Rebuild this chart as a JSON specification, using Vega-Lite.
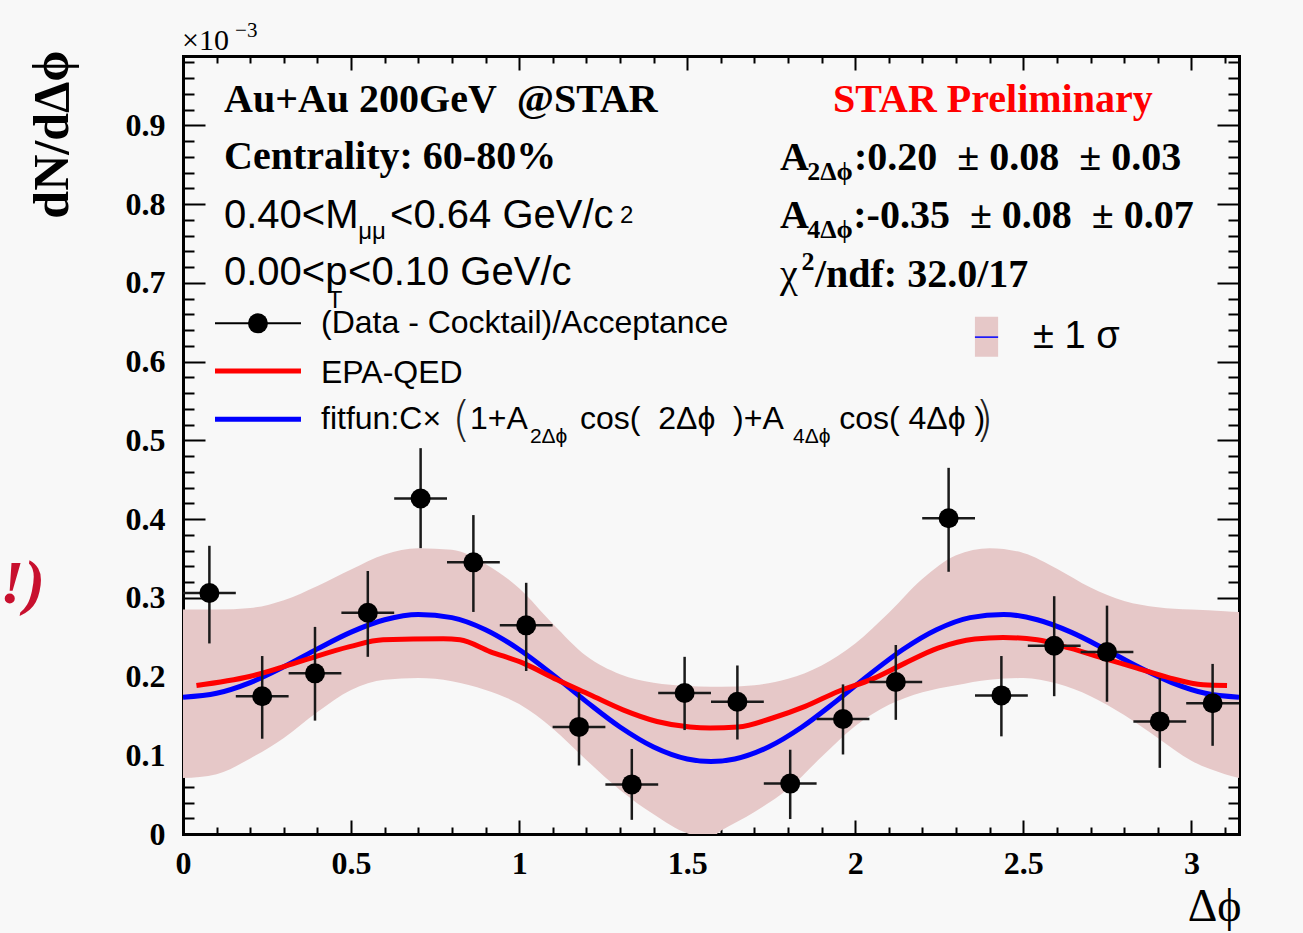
{
  "$schema": "https://vega.github.io/schema/vega-lite/v6.json",
  "width": 1056,
  "height": 778,
  "autosize": {"type": "none"},
  "padding": {"left": 183, "top": 56, "right": 64, "bottom": 99},
  "background": "#f8f8f8",
  "config": {
    "view": {"stroke": null},
    "axis": {"grid": false, "zindex": 1, "domain": true, "domainColor": "black", "domainWidth": 3, "domainCap": "square", "tickColor": "black", "tickWidth": 2}
  },
  "resolve": {"axis": {"x": "independent", "y": "independent"}},
  "datasets": {
    "band": [
      {"x": 0, "lo": 0.071, "hi": 0.285},
      {"x": 0.1, "lo": 0.076, "hi": 0.285},
      {"x": 0.2, "lo": 0.096, "hi": 0.287},
      {"x": 0.3, "lo": 0.122, "hi": 0.297},
      {"x": 0.4, "lo": 0.155, "hi": 0.315},
      {"x": 0.5, "lo": 0.183, "hi": 0.336},
      {"x": 0.6, "lo": 0.196, "hi": 0.355},
      {"x": 0.7, "lo": 0.198, "hi": 0.363},
      {"x": 0.8, "lo": 0.194, "hi": 0.361},
      {"x": 0.9, "lo": 0.183, "hi": 0.343},
      {"x": 1.0, "lo": 0.165, "hi": 0.312},
      {"x": 1.1, "lo": 0.134, "hi": 0.267},
      {"x": 1.2, "lo": 0.094, "hi": 0.226},
      {"x": 1.3, "lo": 0.056, "hi": 0.203},
      {"x": 1.4, "lo": 0.025, "hi": 0.192},
      {"x": 1.5, "lo": 0.001, "hi": 0.188},
      {"x": 1.57, "lo": -0.004, "hi": 0.187},
      {"x": 1.6, "lo": 0.004, "hi": 0.187},
      {"x": 1.7, "lo": 0.028, "hi": 0.189},
      {"x": 1.8, "lo": 0.057, "hi": 0.197},
      {"x": 1.9, "lo": 0.098, "hi": 0.214},
      {"x": 2.0, "lo": 0.137, "hi": 0.242},
      {"x": 2.1, "lo": 0.164, "hi": 0.281},
      {"x": 2.2, "lo": 0.180, "hi": 0.324},
      {"x": 2.3, "lo": 0.189, "hi": 0.354},
      {"x": 2.4, "lo": 0.196, "hi": 0.363},
      {"x": 2.5, "lo": 0.198, "hi": 0.357},
      {"x": 2.6, "lo": 0.191, "hi": 0.337},
      {"x": 2.7, "lo": 0.175, "hi": 0.313},
      {"x": 2.8, "lo": 0.151, "hi": 0.296},
      {"x": 2.9, "lo": 0.122, "hi": 0.288},
      {"x": 3.0, "lo": 0.093, "hi": 0.285},
      {"x": 3.1, "lo": 0.076, "hi": 0.283},
      {"x": 3.1416, "lo": 0.071, "hi": 0.282}
    ],
    "fit": [
      {"x": 0, "y": 0.1738}, {"x": 0.1, "y": 0.1787}, {"x": 0.2, "y": 0.1923}, {"x": 0.3, "y": 0.2123},
      {"x": 0.4, "y": 0.2351}, {"x": 0.5, "y": 0.2564}, {"x": 0.6, "y": 0.2721}, {"x": 0.7, "y": 0.2789},
      {"x": 0.8, "y": 0.2748}, {"x": 0.9, "y": 0.2594}, {"x": 1.0, "y": 0.2343}, {"x": 1.1, "y": 0.2024},
      {"x": 1.2, "y": 0.1681}, {"x": 1.3, "y": 0.1359}, {"x": 1.4, "y": 0.1105}, {"x": 1.5, "y": 0.0953},
      {"x": 1.5708, "y": 0.092}, {"x": 1.6416, "y": 0.0953}, {"x": 1.7416, "y": 0.1105}, {"x": 1.8416, "y": 0.1359},
      {"x": 1.9416, "y": 0.1681}, {"x": 2.0416, "y": 0.2024}, {"x": 2.1416, "y": 0.2343}, {"x": 2.2416, "y": 0.2594},
      {"x": 2.3416, "y": 0.2748}, {"x": 2.4416, "y": 0.2789}, {"x": 2.5416, "y": 0.2721}, {"x": 2.6416, "y": 0.2564},
      {"x": 2.7416, "y": 0.2351}, {"x": 2.8416, "y": 0.2123}, {"x": 2.9416, "y": 0.1923}, {"x": 3.0416, "y": 0.1787},
      {"x": 3.1416, "y": 0.1738}
    ],
    "epa": [
      {"x": 0.040, "y": 0.1886}, {"x": 0.198, "y": 0.200}, {"x": 0.347, "y": 0.219}, {"x": 0.496, "y": 0.238},
      {"x": 0.595, "y": 0.2466}, {"x": 0.774, "y": 0.2478}, {"x": 0.824, "y": 0.2466}, {"x": 0.913, "y": 0.2317},
      {"x": 1.012, "y": 0.217}, {"x": 1.113, "y": 0.1958}, {"x": 1.211, "y": 0.1768}, {"x": 1.309, "y": 0.1577},
      {"x": 1.410, "y": 0.1429}, {"x": 1.508, "y": 0.1358}, {"x": 1.568, "y": 0.1345}, {"x": 1.651, "y": 0.1358},
      {"x": 1.752, "y": 0.147}, {"x": 1.851, "y": 0.162}, {"x": 1.949, "y": 0.181}, {"x": 2.050, "y": 0.1967},
      {"x": 2.148, "y": 0.217}, {"x": 2.246, "y": 0.236}, {"x": 2.356, "y": 0.2475}, {"x": 2.440, "y": 0.2495},
      {"x": 2.541, "y": 0.2466}, {"x": 2.639, "y": 0.236}, {"x": 2.737, "y": 0.2234}, {"x": 2.838, "y": 0.2107},
      {"x": 2.937, "y": 0.198}, {"x": 3.035, "y": 0.1895}, {"x": 3.106, "y": 0.1886}
    ],
    "points": [
      {"x": 0.0785, "y": 0.306, "ylo": 0.242, "yhi": 0.366, "xlo": 0, "xhi": 0.1571},
      {"x": 0.2356, "y": 0.175, "ylo": 0.121, "yhi": 0.226, "xlo": 0.1571, "xhi": 0.3142},
      {"x": 0.3927, "y": 0.204, "ylo": 0.144, "yhi": 0.263, "xlo": 0.3142, "xhi": 0.4712},
      {"x": 0.5498, "y": 0.281, "ylo": 0.225, "yhi": 0.334, "xlo": 0.4712, "xhi": 0.6283},
      {"x": 0.7069, "y": 0.426, "ylo": 0.363, "yhi": 0.490, "xlo": 0.6283, "xhi": 0.7854},
      {"x": 0.8639, "y": 0.345, "ylo": 0.282, "yhi": 0.405, "xlo": 0.7854, "xhi": 0.9425},
      {"x": 1.0210, "y": 0.265, "ylo": 0.207, "yhi": 0.319, "xlo": 0.9425, "xhi": 1.0996},
      {"x": 1.1781, "y": 0.136, "ylo": 0.087, "yhi": 0.180, "xlo": 1.0996, "xhi": 1.2566},
      {"x": 1.3352, "y": 0.063, "ylo": 0.018, "yhi": 0.108, "xlo": 1.2566, "xhi": 1.4137},
      {"x": 1.4923, "y": 0.179, "ylo": 0.132, "yhi": 0.225, "xlo": 1.4137, "xhi": 1.5708},
      {"x": 1.6493, "y": 0.168, "ylo": 0.120, "yhi": 0.214, "xlo": 1.5708, "xhi": 1.7279},
      {"x": 1.8064, "y": 0.064, "ylo": 0.019, "yhi": 0.107, "xlo": 1.7279, "xhi": 1.8850},
      {"x": 1.9635, "y": 0.146, "ylo": 0.101, "yhi": 0.190, "xlo": 1.8850, "xhi": 2.0420},
      {"x": 2.1206, "y": 0.193, "ylo": 0.145, "yhi": 0.240, "xlo": 2.0420, "xhi": 2.1991},
      {"x": 2.2777, "y": 0.401, "ylo": 0.333, "yhi": 0.465, "xlo": 2.1991, "xhi": 2.3562},
      {"x": 2.4347, "y": 0.176, "ylo": 0.124, "yhi": 0.226, "xlo": 2.3562, "xhi": 2.5133},
      {"x": 2.5918, "y": 0.239, "ylo": 0.175, "yhi": 0.302, "xlo": 2.5133, "xhi": 2.6704},
      {"x": 2.7489, "y": 0.231, "ylo": 0.168, "yhi": 0.290, "xlo": 2.6704, "xhi": 2.8274},
      {"x": 2.9060, "y": 0.143, "ylo": 0.084, "yhi": 0.198, "xlo": 2.8274, "xhi": 2.9845},
      {"x": 3.0631, "y": 0.166, "ylo": 0.112, "yhi": 0.216, "xlo": 2.9845, "xhi": 3.1416}
    ],
    "serifBold": [
      {"x": 0.122, "y": 0.917, "t": "Au+Au 200GeV\u00a0 @STAR"},
      {"x": 0.122, "y": 0.845, "t": "Centrality: 60-80%"},
      {"x": 1.776, "y": 0.843, "t": "A"},
      {"x": 1.996, "y": 0.843, "t": ":0.20\u00a0 ± 0.08\u00a0 ± 0.03"},
      {"x": 1.776, "y": 0.769, "t": "A"},
      {"x": 1.994, "y": 0.769, "t": ":-0.35\u00a0 ± 0.08\u00a0 ± 0.07"},
      {"x": 1.880, "y": 0.695, "t": "/ndf: 32.0/17"}
    ],
    "starPrelim": [{"x": 1.934, "y": 0.917, "t": "STAR Preliminary"}],
    "serifBoldSub": [
      {"x": 1.857, "y": 0.830, "t": "2Δϕ"},
      {"x": 1.857, "y": 0.757, "t": "4Δϕ"},
      {"x": 1.840, "y": 0.716, "t": "2"}
    ],
    "chi": [{"x": 1.776, "y": 0.695, "t": "χ"}],
    "sans": [
      {"x": 0.122, "y": 0.769, "t": "0.40<M"},
      {"x": 0.616, "y": 0.769, "t": "<0.64 GeV/c"},
      {"x": 0.122, "y": 0.697, "t": "0.00<p"},
      {"x": 0.491, "y": 0.697, "t": "<0.10 GeV/c"}
    ],
    "sansSmall": [
      {"x": 0.521, "y": 0.756, "t": "μμ"},
      {"x": 1.300, "y": 0.776, "t": "2"},
      {"x": 0.431, "y": 0.668, "t": "T"}
    ],
    "legendText": [
      {"x": 0.4106, "y": 0.636, "t": "(Data - Cocktail)/Acceptance"},
      {"x": 0.4106, "y": 0.573, "t": "EPA-QED"},
      {"x": 0.4106, "y": 0.5145, "t": "fitfun:C×"},
      {"x": 0.854, "y": 0.5145, "t": "1+A"},
      {"x": 1.181, "y": 0.5145, "t": "cos(\u00a0 2Δϕ\u00a0 )+A"},
      {"x": 1.952, "y": 0.5145, "t": "cos( 4Δϕ )"}
    ],
    "legendSub": [
      {"x": 1.032, "y": 0.4966, "t": "2Δϕ"},
      {"x": 1.815, "y": 0.4966, "t": "4Δϕ"}
    ],
    "parens": [
      {"x": 0.800, "y": 0.505, "t": "("},
      {"x": 2.356, "y": 0.505, "t": ")"}
    ],
    "sigma": [{"x": 2.529, "y": 0.617, "t": "± 1 σ"}],
    "expo": [{"x": -0.003, "y": 0.9953, "t": "×10"}],
    "expoSup": [{"x": 0.155, "y": 1.0118, "t": "−3"}],
    "slide": [{"x": -0.411, "y": 0.2935, "t": "!)"}],
    "legBlack": [{"x": 0.0952, "x2": 0.351, "y": 0.6485}],
    "legRed": [{"x": 0.0952, "x2": 0.351, "y": 0.588}],
    "legBlue": [{"x": 0.0952, "x2": 0.351, "y": 0.5267}],
    "legMarker": [{"x": 0.223, "y": 0.6485}],
    "sigBox": [{"x": 2.356, "x2": 2.425, "y": 0.606, "y2": 0.657}],
    "sigLine": [{"x": 2.356, "x2": 2.425, "y": 0.631}]
  },
  "layer": [
    {
      "data": {"name": "band"},
      "mark": {"type": "area", "color": "#e6c8c8", "opacity": 1, "interpolate": "monotone", "clip": true},
      "encoding": {
        "x": {
          "field": "x", "type": "quantitative",
          "scale": {"domain": [0, 3.1416], "nice": false, "zero": false},
          "axis": {
            "orient": "bottom",
            "values": [0,0.1,0.2,0.3,0.4,0.5,0.6,0.7,0.8,0.9,1,1.1,1.2,1.3,1.4,1.5,1.6,1.7,1.8,1.9,2,2.1,2.2,2.3,2.4,2.5,2.6,2.7,2.8,2.9,3,3.1],
            "tickSize": {"condition": {"test": "abs(datum.value*2-round(datum.value*2))<1e-6", "value": -14}, "value": -7},
            "labelExpr": "abs(datum.value*2-round(datum.value*2))<1e-6 ? format(datum.value,'~g') : ''",
            "labelFont": "Liberation Serif", "labelFontWeight": "bold", "labelFontSize": 32, "labelColor": "black",
            "labelPadding": 28, "labelFlush": false, "labelOverlap": false, "labelBound": false,
            "title": "Δϕ", "titleFont": "Liberation Serif", "titleFontWeight": "normal", "titleFontSize": 46, "titleColor": "black",
            "titleAlign": "right", "titleBaseline": "alphabetic", "titleAnchor": "end", "titleX": 1058, "titleY": 86
          }
        },
        "y": {
          "field": "lo", "type": "quantitative",
          "scale": {"domain": [0, 0.988], "nice": false, "zero": false},
          "axis": {
            "orient": "left",
            "values": [0,0.02,0.04,0.06,0.08,0.1,0.12,0.14,0.16,0.18,0.2,0.22,0.24,0.26,0.28,0.3,0.32,0.34,0.36,0.38,0.4,0.42,0.44,0.46,0.48,0.5,0.52,0.54,0.56,0.58,0.6,0.62,0.64,0.66,0.68,0.7,0.72,0.74,0.76,0.78,0.8,0.82,0.84,0.86,0.88,0.9,0.92,0.94,0.96,0.98],
            "tickSize": {"condition": {"test": "abs(datum.value*10-round(datum.value*10))<1e-6", "value": -22}, "value": -11},
            "labelExpr": "abs(datum.value*10-round(datum.value*10))<1e-6 ? format(datum.value,'~g') : ''",
            "labelFont": "Liberation Serif", "labelFontWeight": "bold", "labelFontSize": 32, "labelColor": "black",
            "labelPadding": 40, "labelFlush": false, "labelOverlap": false, "labelBound": false,
            "title": "dN/dΔϕ", "titleFont": "Liberation Serif", "titleFontWeight": "bold", "titleFontSize": 50, "titleColor": "black",
            "titleAngle": 270, "titleAlign": "right", "titleBaseline": "alphabetic", "titleAnchor": "end", "titleX": -116, "titleY": -6
          }
        },
        "y2": {"field": "hi"}
      }
    },
    {
      "data": {"name": "fit"},
      "mark": {"type": "line", "color": "#0000ff", "strokeWidth": 5, "interpolate": "monotone", "clip": true},
      "encoding": {
        "x": {
          "field": "x", "type": "quantitative",
          "axis": {
            "orient": "top", "labels": false, "title": null,
            "values": [0,0.1,0.2,0.3,0.4,0.5,0.6,0.7,0.8,0.9,1,1.1,1.2,1.3,1.4,1.5,1.6,1.7,1.8,1.9,2,2.1,2.2,2.3,2.4,2.5,2.6,2.7,2.8,2.9,3,3.1],
            "tickSize": {"condition": {"test": "abs(datum.value*2-round(datum.value*2))<1e-6", "value": -14}, "value": -7}
          }
        },
        "y": {
          "field": "y", "type": "quantitative",
          "axis": {
            "orient": "right", "labels": false, "title": null,
            "values": [0,0.02,0.04,0.06,0.08,0.1,0.12,0.14,0.16,0.18,0.2,0.22,0.24,0.26,0.28,0.3,0.32,0.34,0.36,0.38,0.4,0.42,0.44,0.46,0.48,0.5,0.52,0.54,0.56,0.58,0.6,0.62,0.64,0.66,0.68,0.7,0.72,0.74,0.76,0.78,0.8,0.82,0.84,0.86,0.88,0.9,0.92,0.94,0.96,0.98],
            "tickSize": {"condition": {"test": "abs(datum.value*10-round(datum.value*10))<1e-6", "value": -22}, "value": -11}
          }
        }
      }
    },
    {
      "data": {"name": "epa"},
      "mark": {"type": "line", "color": "#ff0000", "strokeWidth": 5, "interpolate": "monotone", "clip": true},
      "encoding": {
        "x": {"field": "x", "type": "quantitative", "axis": null},
        "y": {"field": "y", "type": "quantitative", "axis": null}
      }
    },
    {
      "data": {"name": "points"},
      "mark": {"type": "rule", "color": "#1a1a1a", "strokeWidth": 2.5},
      "encoding": {
        "x": {"field": "x", "type": "quantitative", "axis": null},
        "y": {"field": "ylo", "type": "quantitative", "axis": null},
        "y2": {"field": "yhi"}
      }
    },
    {
      "data": {"name": "points"},
      "mark": {"type": "rule", "color": "#1a1a1a", "strokeWidth": 2.5},
      "encoding": {
        "x": {"field": "xlo", "type": "quantitative", "axis": null},
        "x2": {"field": "xhi"},
        "y": {"field": "y", "type": "quantitative", "axis": null}
      }
    },
    {
      "data": {"name": "points"},
      "mark": {"type": "point", "filled": true, "size": 400, "color": "black", "opacity": 1},
      "encoding": {
        "x": {"field": "x", "type": "quantitative", "axis": null},
        "y": {"field": "y", "type": "quantitative", "axis": null}
      }
    },
    {
      "data": {"name": "legBlack"},
      "mark": {"type": "rule", "color": "black", "strokeWidth": 2},
      "encoding": {
        "x": {"field": "x", "type": "quantitative", "axis": null},
        "x2": {"field": "x2"},
        "y": {"field": "y", "type": "quantitative", "axis": null}
      }
    },
    {
      "data": {"name": "legRed"},
      "mark": {"type": "rule", "color": "#ff0000", "strokeWidth": 5},
      "encoding": {
        "x": {"field": "x", "type": "quantitative", "axis": null},
        "x2": {"field": "x2"},
        "y": {"field": "y", "type": "quantitative", "axis": null}
      }
    },
    {
      "data": {"name": "legBlue"},
      "mark": {"type": "rule", "color": "#0000ff", "strokeWidth": 5},
      "encoding": {
        "x": {"field": "x", "type": "quantitative", "axis": null},
        "x2": {"field": "x2"},
        "y": {"field": "y", "type": "quantitative", "axis": null}
      }
    },
    {
      "data": {"name": "legMarker"},
      "mark": {"type": "point", "filled": true, "size": 400, "color": "black", "opacity": 1},
      "encoding": {
        "x": {"field": "x", "type": "quantitative", "axis": null},
        "y": {"field": "y", "type": "quantitative", "axis": null}
      }
    },
    {
      "data": {"name": "sigBox"},
      "mark": {"type": "rect", "color": "#e6c8c8", "opacity": 1},
      "encoding": {
        "x": {"field": "x", "type": "quantitative", "axis": null},
        "x2": {"field": "x2"},
        "y": {"field": "y", "type": "quantitative", "axis": null},
        "y2": {"field": "y2"}
      }
    },
    {
      "data": {"name": "sigLine"},
      "mark": {"type": "rule", "color": "#0000ff", "strokeWidth": 1.5},
      "encoding": {
        "x": {"field": "x", "type": "quantitative", "axis": null},
        "x2": {"field": "x2"},
        "y": {"field": "y", "type": "quantitative", "axis": null}
      }
    },
    {
      "data": {"name": "serifBold"},
      "mark": {"type": "text", "align": "left", "baseline": "alphabetic", "font": "Liberation Serif", "fontWeight": "bold", "fontSize": 40, "color": "black"},
      "encoding": {
        "x": {"field": "x", "type": "quantitative", "axis": null},
        "y": {"field": "y", "type": "quantitative", "axis": null},
        "text": {"field": "t"}
      }
    },
    {
      "data": {"name": "starPrelim"},
      "mark": {"type": "text", "align": "left", "baseline": "alphabetic", "font": "Liberation Serif", "fontWeight": "bold", "fontSize": 40, "color": "#ff0000"},
      "encoding": {
        "x": {"field": "x", "type": "quantitative", "axis": null},
        "y": {"field": "y", "type": "quantitative", "axis": null},
        "text": {"field": "t"}
      }
    },
    {
      "data": {"name": "serifBoldSub"},
      "mark": {"type": "text", "align": "left", "baseline": "alphabetic", "font": "Liberation Serif", "fontWeight": "bold", "fontSize": 26, "color": "black"},
      "encoding": {
        "x": {"field": "x", "type": "quantitative", "axis": null},
        "y": {"field": "y", "type": "quantitative", "axis": null},
        "text": {"field": "t"}
      }
    },
    {
      "data": {"name": "chi"},
      "mark": {"type": "text", "align": "left", "baseline": "alphabetic", "font": "Liberation Serif", "fontWeight": "normal", "fontSize": 40, "color": "black"},
      "encoding": {
        "x": {"field": "x", "type": "quantitative", "axis": null},
        "y": {"field": "y", "type": "quantitative", "axis": null},
        "text": {"field": "t"}
      }
    },
    {
      "data": {"name": "sans"},
      "mark": {"type": "text", "align": "left", "baseline": "alphabetic", "font": "Liberation Sans", "fontSize": 40, "color": "black"},
      "encoding": {
        "x": {"field": "x", "type": "quantitative", "axis": null},
        "y": {"field": "y", "type": "quantitative", "axis": null},
        "text": {"field": "t"}
      }
    },
    {
      "data": {"name": "sansSmall"},
      "mark": {"type": "text", "align": "left", "baseline": "alphabetic", "font": "Liberation Sans", "fontSize": 24, "color": "black"},
      "encoding": {
        "x": {"field": "x", "type": "quantitative", "axis": null},
        "y": {"field": "y", "type": "quantitative", "axis": null},
        "text": {"field": "t"}
      }
    },
    {
      "data": {"name": "legendText"},
      "mark": {"type": "text", "align": "left", "baseline": "alphabetic", "font": "Liberation Sans", "fontSize": 32, "color": "black"},
      "encoding": {
        "x": {"field": "x", "type": "quantitative", "axis": null},
        "y": {"field": "y", "type": "quantitative", "axis": null},
        "text": {"field": "t"}
      }
    },
    {
      "data": {"name": "legendSub"},
      "mark": {"type": "text", "align": "left", "baseline": "alphabetic", "font": "Liberation Sans", "fontSize": 21, "color": "black"},
      "encoding": {
        "x": {"field": "x", "type": "quantitative", "axis": null},
        "y": {"field": "y", "type": "quantitative", "axis": null},
        "text": {"field": "t"}
      }
    },
    {
      "data": {"name": "parens"},
      "mark": {"type": "text", "align": "left", "baseline": "alphabetic", "font": "DejaVu Sans", "fontWeight": 200, "fontSize": 48, "color": "#222222"},
      "encoding": {
        "x": {"field": "x", "type": "quantitative", "axis": null},
        "y": {"field": "y", "type": "quantitative", "axis": null},
        "text": {"field": "t"}
      }
    },
    {
      "data": {"name": "sigma"},
      "mark": {"type": "text", "align": "left", "baseline": "alphabetic", "font": "Liberation Sans", "fontSize": 38, "color": "black"},
      "encoding": {
        "x": {"field": "x", "type": "quantitative", "axis": null},
        "y": {"field": "y", "type": "quantitative", "axis": null},
        "text": {"field": "t"}
      }
    },
    {
      "data": {"name": "expo"},
      "mark": {"type": "text", "align": "left", "baseline": "alphabetic", "font": "Liberation Serif", "fontSize": 30, "color": "black"},
      "encoding": {
        "x": {"field": "x", "type": "quantitative", "axis": null},
        "y": {"field": "y", "type": "quantitative", "axis": null},
        "text": {"field": "t"}
      }
    },
    {
      "data": {"name": "expoSup"},
      "mark": {"type": "text", "align": "left", "baseline": "alphabetic", "font": "Liberation Serif", "fontSize": 21, "color": "black"},
      "encoding": {
        "x": {"field": "x", "type": "quantitative", "axis": null},
        "y": {"field": "y", "type": "quantitative", "axis": null},
        "text": {"field": "t"}
      }
    },
    {
      "data": {"name": "slide"},
      "mark": {"type": "text", "align": "right", "baseline": "alphabetic", "font": "Liberation Serif", "fontWeight": "bold", "fontStyle": "italic", "fontSize": 62, "color": "#c8102e"},
      "encoding": {
        "x": {"field": "x", "type": "quantitative", "axis": null},
        "y": {"field": "y", "type": "quantitative", "axis": null},
        "text": {"field": "t"}
      }
    }
  ]
}
